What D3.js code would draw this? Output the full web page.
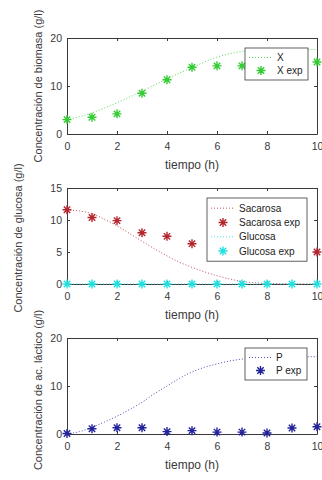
<!DOCTYPE html>
<html>
<head>
<meta charset="utf-8">
<script src="https://cdn.jsdelivr.net/npm/d3@7"></script>
<style>
  body { margin: 0; background: #fff; }
  svg { display: block; }
</style>
</head>
<body>
<div id="container"></div>
<script>
// datos
let tiempo = [0, 1, 2, 3, 4, 5, 6, 7, 8, 9, 10];
let tModelo = [0, 0.5, 1, 1.5, 2, 2.5, 3, 3.5, 4, 4.5, 5, 5.5, 6, 6.5, 7, 7.5, 8, 8.5, 9, 9.5, 10];

let xExp = [3.0, 3.5, 4.2, 8.5, 11.3, 13.9, 14.2, 14.2, 14.4, 14.6, 15.0];
let xModelo = [3.0, 3.6, 4.4, 5.4, 6.5, 7.7, 8.9, 10.2, 11.5, 12.7, 13.8, 15.0, 16.0, 16.7, 17.2, 17.4, 17.5, 17.6, 17.6, 17.6, 17.6];

let sacExp = [11.6, 10.4, 9.9, 8.0, 7.45, 6.3, 5.9, 5.6, 5.4, 5.2, 5.0];
let sacModelo = [11.6, 11.4, 11.0, 10.1, 9.1, 7.9, 6.7, 5.5, 4.4, 3.4, 2.6, 1.9, 1.3, 0.8, 0.4, 0.2, 0.1, 0.05, 0.02, 0, 0];
let gluExp = [0, 0, 0, 0, 0, 0, 0, 0, 0, 0, 0];
let gluModelo = [0, 0, 0, 0, 0, 0, 0, 0, 0, 0, 0, 0, 0, 0, 0, 0, 0, 0, 0, 0, 0];

let pExp = [0.1, 1.1, 1.3, 1.3, 0.5, 0.7, 0.4, 0.4, 0.2, 1.25, 1.5];
let pModelo = [0, 0.5, 1.4, 2.5, 3.7, 5.1, 6.6, 8.4, 10.0, 11.6, 12.9, 13.9, 14.6, 15.2, 15.6, 15.8, 16.0, 16.0, 16.1, 16.1, 16.1];

let xTicks = [0, 2, 4, 6, 8, 10];

let w = 322;
let h = 480;

let viz = d3.select("#container")
  .append("svg")
    .attr("width", w)
    .attr("height", h)
    .style("background-color", "#ffffff");

let xScale = d3.scaleLinear().domain([0, 10]).range([67, 317]);

let star = "M-4.5,0H4.5M0,-4.5V4.5M-3.2,-3.2L3.2,3.2M-3.2,3.2L3.2,-3.2";

function panel(top, yMax, yTicks, ylabel, labelX, labelY, series, legend) {
  let bottom = top + 96;
  let yScale = d3.scaleLinear().domain([0, yMax]).range([bottom, top]);
  let g = viz.append("g");

  // ejes con marcas hacia dentro
  g.append("g").attr("transform", "translate(0," + bottom + ")")
    .call(d3.axisBottom(xScale).tickValues(xTicks).tickSize(-3).tickSizeOuter(0).tickPadding(9));
  g.append("g").attr("transform", "translate(67,0)")
    .call(d3.axisLeft(yScale).tickValues(yTicks).tickSize(-3).tickSizeOuter(0).tickPadding(5));
  g.append("g").attr("transform", "translate(0," + top + ")")
    .call(d3.axisTop(xScale).tickValues(xTicks).tickSize(-3).tickSizeOuter(0).tickFormat(""));
  g.append("g").attr("transform", "translate(317,0)")
    .call(d3.axisRight(yScale).tickValues(yTicks).tickSize(-3).tickSizeOuter(0).tickFormat(""));

  g.selectAll(".domain").attr("stroke", "#3a3a3a");
  g.selectAll(".tick line").attr("stroke", "#3a3a3a");
  g.selectAll(".tick text")
    .attr("fill", "#3a3a3a")
    .style("font-family", "'Liberation Sans', Arial, sans-serif")
    .style("font-size", "10.5px");

  g.append("text")
    .attr("x", 192)
    .attr("y", bottom + 35)
    .attr("text-anchor", "middle")
    .attr("style", "font-size:12px; font-family:'Liberation Sans', Arial, sans-serif;")
    .attr("fill", "#3a3a3a")
    .text("tiempo (h)");

  g.append("text")
    .attr("transform", "translate(" + labelX + "," + labelY + ") rotate(-90)")
    .attr("text-anchor", "middle")
    .attr("style", "font-size:11px; font-family:'Liberation Sans', Arial, sans-serif;")
    .attr("fill", "#3a3a3a")
    .text(ylabel);

  // curvas y puntos
  series.forEach(function(s) {
    let line = d3.line()
      .x(function(d, i) { return xScale(tModelo[i]); })
      .y(function(d) { return yScale(d); })
      .curve(d3.curveMonotoneX);
    g.append("path")
      .attr("d", line(s.modelo))
      .attr("fill", "none")
      .attr("stroke", s.color)
      .attr("stroke-width", 1)
      .attr("stroke-dasharray", "1,2")
      .attr("opacity", 0.8);
  });
  series.forEach(function(s) {
    g.selectAll(null)
      .data(s.exp)
      .enter()
      .append("path")
        .attr("d", star)
        .attr("transform", function(d, i) { return "translate(" + xScale(tiempo[i]) + "," + yScale(d) + ")"; })
        .attr("fill", "none")
        .attr("stroke", s.color)
        .attr("stroke-width", 1.4);
  });

  // leyenda
  let lg = g.append("g");
  lg.append("rect")
    .attr("x", legend.x)
    .attr("y", legend.y)
    .attr("width", legend.w)
    .attr("height", legend.items.length * legend.step + 6)
    .attr("fill", "#ffffff")
    .attr("stroke", "#3a3a3a")
    .attr("stroke-width", 0.8);
  legend.items.forEach(function(it, i) {
    let cy = legend.y + 3 + legend.step / 2 + i * legend.step;
    if (it.tipo == "linea") {
      lg.append("line")
        .attr("x1", legend.x + 4)
        .attr("x2", legend.x + legend.textX - 4)
        .attr("y1", cy)
        .attr("y2", cy)
        .attr("stroke", it.color)
        .attr("stroke-dasharray", "1,2")
        .attr("opacity", 0.8);
    } else {
      lg.append("path")
        .attr("d", star)
        .attr("transform", "translate(" + (legend.x + legend.textX / 2) + "," + cy + ")")
        .attr("fill", "none")
        .attr("stroke", it.color)
        .attr("stroke-width", 1.4);
    }
    lg.append("text")
      .attr("x", legend.x + legend.textX)
      .attr("y", cy + 3.6)
      .attr("style", "font-size:10px; font-family:'Liberation Sans', Arial, sans-serif;")
      .attr("fill", "#222222")
      .text(it.nombre);
  });
}

let verde = "#33cc33";
let rojo = "#b3262e";
let cian = "#22e0e0";
let azul = "#22229a";

panel(38, 20, [0, 10, 20], "Concentración de biomasa (g/l)", 42, 86,
  [{ modelo: xModelo, exp: xExp, color: verde }],
  { x: 245, y: 48, w: 63, step: 13, textX: 32,
    items: [{ nombre: "X", tipo: "linea", color: verde }, { nombre: "X exp", tipo: "punto", color: verde }] });

panel(188, 15, [0, 5, 10, 15], "Concentración de glucosa (g/l)", 22, 238,
  [{ modelo: sacModelo, exp: sacExp, color: rojo }, { modelo: gluModelo, exp: gluExp, color: cian }],
  { x: 207, y: 198, w: 100, step: 14.3, textX: 32,
    items: [{ nombre: "Sacarosa", tipo: "linea", color: rojo }, { nombre: "Sacarosa exp", tipo: "punto", color: rojo },
            { nombre: "Glucosa", tipo: "linea", color: cian }, { nombre: "Glucosa exp", tipo: "punto", color: cian }] });

panel(338, 20, [0, 10, 20], "Concentración de ac. láctico (g/l)", 42, 390,
  [{ modelo: pModelo, exp: pExp, color: azul }],
  { x: 245, y: 348, w: 62, step: 13, textX: 31,
    items: [{ nombre: "P", tipo: "linea", color: azul }, { nombre: "P exp", tipo: "punto", color: azul }] });
</script>
</body>
</html>
